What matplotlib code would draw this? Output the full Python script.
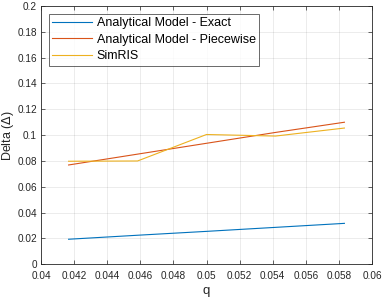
import matplotlib
matplotlib.use('Agg')
from matplotlib import pyplot as plt
import numpy as np

q = [0.041667, 0.045833, 0.05, 0.054167, 0.058333]
exact = [0.0194, 0.0225, 0.0255, 0.0286, 0.0317]
piecewise = [0.0769, 0.0853, 0.0937, 0.1021, 0.1100]
simris = [0.0798, 0.0800, 0.1005, 0.0993, 0.1055]
labels = ['Analytical Model - Exact', 'Analytical Model - Piecewise', 'SimRIS']

plt.rcParams['font.family'] = ['Liberation Sans', 'DejaVu Sans']
dark = '#262626'

fig = plt.figure(figsize=(3.82, 2.99), dpi=100)
ax = fig.add_axes([41 / 382, 1 - 264.3 / 299, 331 / 382, 258.3 / 299])

ax.plot(q, exact, color='#0072BD', lw=0.8, label=labels[0])
ax.plot(q, piecewise, color='#D95319', lw=0.8, label=labels[1])
ax.plot(q, simris, color='#EDB120', lw=0.8, label=labels[2])

ax.set_xlim(0.04, 0.06)
ax.set_ylim(0, 0.2)
ax.set_xticks(np.arange(0.04, 0.0601, 0.002))
ax.set_xticklabels(['0.04', '0.042', '0.044', '0.046', '0.048', '0.05', '0.052', '0.054', '0.056', '0.058', '0.06'])
ax.set_yticks(np.arange(0, 0.201, 0.02))
ax.set_yticklabels(['0', '0.02', '0.04', '0.06', '0.08', '0.1', '0.12', '0.14', '0.16', '0.18', '0.2'])
ax.tick_params(direction='in', length=3, width=0.5, labelsize=7.2, colors=dark,
               top=True, right=True)
ax.tick_params(axis='x', pad=5)
ax.tick_params(axis='y', pad=3)
for s in ax.spines.values():
    s.set_color(dark)
    s.set_linewidth(0.6)
ax.grid(True, color=dark, alpha=0.12, lw=0.5)
ax.set_axisbelow(True)

ax.set_xlabel('q', fontsize=9.5, color=dark, labelpad=3)
ax.set_ylabel('Delta ($\\Delta$)', fontsize=9, color=dark, labelpad=1)

leg = ax.legend(loc='upper left', fontsize=9.0, frameon=True, fancybox=False,
                borderpad=0.3, labelspacing=0.35, handlelength=3.2, handletextpad=0.35,
                borderaxespad=0.6)
leg.get_frame().set_edgecolor(dark)
leg.get_frame().set_linewidth(0.6)

fig.savefig('out.png', dpi=100)
